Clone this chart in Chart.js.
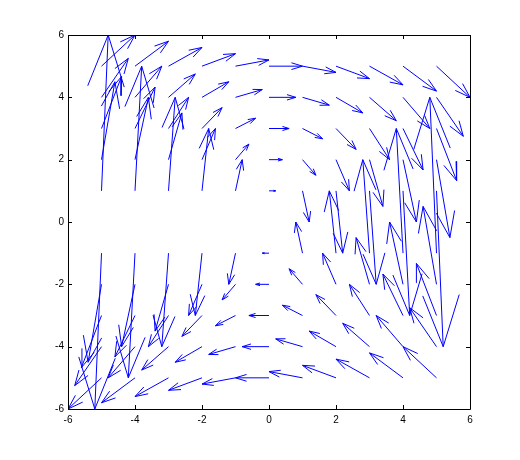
<!DOCTYPE html>
<html>
<head>
<meta charset="utf-8">
<script src="https://cdn.jsdelivr.net/npm/chart.js@4"></script>
<style>
  html, body { margin: 0; padding: 0; background: #fff; }
  #wrap { width: 520px; height: 460px; }
</style>
</head>
<body>
<div id="wrap"><canvas id="quiver" width="520" height="460"></canvas></div>
<script>
// grid of arrow bases (row y = 0 has no arrows)
const xGrid = [-5, -4, -3, -2, -1, 0, 1, 2, 3, 4, 5];
const yGrid = [5, 4, 3, 2, 1, -1, -2, -3, -4, -5];

// horizontal component, one row per yGrid entry
const uRows = [
  [1, 1, 1, 1, 1, 1, 1, 1, 1, 1, 1],
  [0.8, 0.8, 0.8, 0.8, 0.8, 0.8, 0.8, 0.8, 0.8, 0.8, 0.8],
  [0.6, 0.6, 0.6, 0.6, 0.6, 0.6, 0.6, 0.6, 0.6, 0.6, 0.6],
  [0.4, 0.4, 0.4, 0.4, 0.4, 0.4, 0.4, 0.4, 0.4, 0.4, 0.4],
  [0.2, 0.2, 0.2, 0.2, 0.2, 0.2, 0.2, 0.2, 0.2, 0.2, 0.2],
  [-0.2, -0.2, -0.2, -0.2, -0.2, -0.2, -0.2, -0.2, -0.2, -0.2, -0.2],
  [-0.4, -0.4, -0.4, -0.4, -0.4, -0.4, -0.4, -0.4, -0.4, -0.4, -0.4],
  [-0.6, -0.6, -0.6, -0.6, -0.6, -0.6, -0.6, -0.6, -0.6, -0.6, -0.6],
  [-0.8, -0.8, -0.8, -0.8, -0.8, -0.8, -0.8, -0.8, -0.8, -0.8, -0.8],
  [-1, -1, -1, -1, -1, -1, -1, -1, -1, -1, -1]
];

// vertical component
const vRows = [
  [1, 0.8, 0.6, 0.4, 0.2, 0, -0.2, -0.4, -0.6, -0.8, -1],
  [1.25, 1, 0.75, 0.5, 0.25, 0, -0.25, -0.5, -0.75, -1, -1.25],
  [1.67, 1.33, 1, 0.67, 0.33, 0, -0.33, -0.67, -1, -1.33, -1.67],
  [2.5, 2, 1.5, 1, 0.5, 0, -0.5, -1, -1.5, -2, -2.5],
  [5, 4, 3, 2, 1, 0, -1, -2, -3, -4, -5],
  [-5, -4, -3, -2, -1, 0, 1, 2, 3, 4, 5],
  [-2.5, -2, -1.5, -1, -0.5, 0, 0.5, 1, 1.5, 2, 2.5],
  [-1.67, -1.33, -1, -0.67, -0.33, 0, 0.33, 0.67, 1, 1.33, 1.67],
  [-1.25, -1, -0.75, -0.5, -0.25, 0, 0.25, 0.5, 0.75, 1, 1.25],
  [-1, -0.8, -0.6, -0.4, -0.2, 0, 0.2, 0.4, 0.6, 0.8, 1]
];

const tickValues = [-6, -4, -2, 0, 2, 4, 6];

// arrow head size, relative to the vector (data units)
const headLen = 0.33;
const headWidth = 0.33;

const gap = { x: null, y: null };
const shafts = [];
const heads = [];
yGrid.forEach((y, r) => {
  xGrid.forEach((x, c) => {
    const u = uRows[r][c];
    const v = vRows[r][c];
    const tx = x + u, ty = y + v;
    shafts.push({ x, y }, { x: tx, y: ty }, gap);
    heads.push(
      { x: tx - headLen * (u + headWidth * v), y: ty - headLen * (v - headWidth * u) },
      { x: tx, y: ty },
      { x: tx - headLen * (u - headWidth * v), y: ty - headLen * (v + headWidth * u) },
      gap
    );
  });
});

// box with inward ticks on all four sides
const boxAxes = {
  id: 'boxAxes',
  afterDraw(chart) {
    const { ctx, chartArea: a, scales } = chart;
    const tl = 4;
    ctx.save();
    ctx.strokeStyle = '#000';
    ctx.lineWidth = 1;
    ctx.beginPath();
    ctx.rect(a.left + 0.5, a.top + 0.5, a.right - a.left, a.bottom - a.top);
    tickValues.forEach(t => {
      const px = Math.round(scales.x.getPixelForValue(t)) + 0.5;
      const py = Math.round(scales.y.getPixelForValue(t)) + 0.5;
      ctx.moveTo(px, a.bottom); ctx.lineTo(px, a.bottom - tl);
      ctx.moveTo(px, a.top); ctx.lineTo(px, a.top + tl);
      ctx.moveTo(a.left, py); ctx.lineTo(a.left + tl, py);
      ctx.moveTo(a.right, py); ctx.lineTo(a.right - tl, py);
    });
    ctx.stroke();
    ctx.restore();
  }
};

const tickFont = { family: 'Liberation Sans, Arial, sans-serif', size: 10 };

new Chart(document.getElementById('quiver'), {
  type: 'scatter',
  data: {
    datasets: [
      { data: shafts, showLine: true, borderColor: '#0000ff', borderWidth: 1, pointRadius: 0, spanGaps: false },
      { data: heads, showLine: true, borderColor: '#0000ff', borderWidth: 1, pointRadius: 0, spanGaps: false }
    ]
  },
  options: {
    responsive: false,
    devicePixelRatio: 1,
    animation: false,
    layout: { padding: { left: 0, top: 35, right: 50, bottom: 31 } },
    plugins: { legend: { display: false }, tooltip: { enabled: false } },
    scales: {
      x: {
        type: 'linear', min: -6, max: 6,
        grid: { display: false, drawTicks: false },
        border: { display: false },
        ticks: { stepSize: 2, padding: 5, color: '#000', font: tickFont, maxRotation: 0 },
        afterFit: s => { s.height = 20; }
      },
      y: {
        type: 'linear', min: -6, max: 6,
        grid: { display: false, drawTicks: false },
        border: { display: false },
        ticks: { stepSize: 2, padding: 4, color: '#000', font: tickFont },
        afterFit: s => { s.width = 68; }
      }
    }
  },
  plugins: [boxAxes]
});
</script>
</body>
</html>
